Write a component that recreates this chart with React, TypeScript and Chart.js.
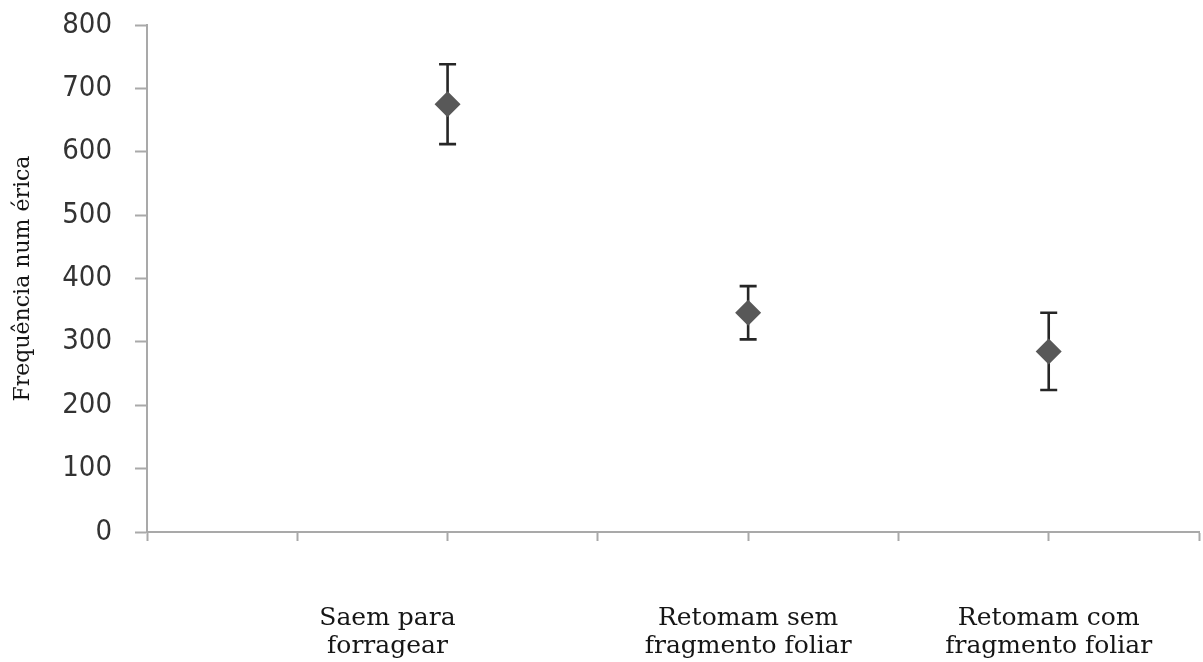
import { useEffect, useRef } from 'react';
import { Chart, registerables } from 'chart.js';

Chart.register(...registerables);

// ---- data ----
const categories: string[][] = [
  ['Saem para', 'forragear'],
  ['Retomam sem', 'fragmento foliar'],
  ['Retomam com', 'fragmento foliar'],
];
const xValues = [2, 4, 6];
const labelValues = [1.6, 4, 6];
const means = [675, 346, 285];
const errors = [63, 42, 61];
const xTickValues = [0, 1, 2, 3, 4, 5, 6, 7];
const yTitle = 'Frequência num érica';

const AXIS_COLOR = '#a9a9a9';

const errorBars = {
  id: 'errorBars',
  beforeDatasetsDraw(chart: any) {
    const { ctx, scales } = chart;
    const x = scales.x;
    const y = scales.y;
    ctx.save();
    ctx.strokeStyle = '#262626';
    ctx.lineWidth = 2.6;
    means.forEach((m, i) => {
      const px = x.getPixelForValue(xValues[i]);
      const top = y.getPixelForValue(m + errors[i]);
      const bot = y.getPixelForValue(m - errors[i]);
      const cap = 8.5;
      ctx.beginPath();
      ctx.moveTo(px, top);
      ctx.lineTo(px, bot);
      ctx.moveTo(px - cap, top);
      ctx.lineTo(px + cap, top);
      ctx.moveTo(px - cap, bot);
      ctx.lineTo(px + cap, bot);
      ctx.stroke();
    });
    ctx.restore();
  },
};

const zeroPadding = (s: any) => {
  s.paddingLeft = 0;
  s.paddingRight = 0;
  s.paddingTop = 0;
  s.paddingBottom = 0;
};

export default function App() {
  const ref = useRef<HTMLCanvasElement | null>(null);
  useEffect(() => {
    if (!ref.current) return;
    const chart = new Chart(ref.current, {
      type: 'scatter',
      data: {
        datasets: [
          {
            data: xValues.map((x, i) => ({ x, y: means[i] })),
            pointStyle: 'rectRot',
            pointRadius: 13,
            pointHoverRadius: 13,
            backgroundColor: '#585858',
            borderWidth: 0,
            showLine: false,
            clip: false,
          },
        ],
      },
      options: {
        animation: false,
        responsive: true,
        maintainAspectRatio: false,
        layout: { autoPadding: false, padding: { top: 25, right: 4, left: 0, bottom: 0 } },
        plugins: { legend: { display: false }, title: { display: false }, tooltip: { enabled: false } },
        scales: {
          x: {
            type: 'linear',
            min: 0,
            max: 7,
            afterBuildTicks: (s: any) => {
              const vals = [...xTickValues, ...labelValues.filter((v) => !xTickValues.includes(v))].sort(
                (a, b) => a - b,
              );
              s.ticks = vals.map((v) => ({ value: v }));
            },
            afterFit: (s: any) => {
              s.height = 130;
              zeroPadding(s);
            },
            grid: {
              display: true,
              drawOnChartArea: false,
              drawTicks: true,
              tickLength: 9,
              tickWidth: 2,
              tickColor: (c: any) =>
                c.tick && xTickValues.includes(c.tick.value) ? AXIS_COLOR : 'rgba(0,0,0,0)',
            },
            border: { display: true, color: AXIS_COLOR, width: 2 },
            ticks: {
              autoSkip: false,
              maxRotation: 0,
              minRotation: 0,
              padding: 63,
              color: '#151515',
              font: { family: 'DejaVu Serif', size: 25, lineHeight: 1.12 },
              callback: (v: any) => {
                const i = labelValues.indexOf(Number(v));
                return i >= 0 ? categories[i] : '';
              },
            },
          },
          y: {
            min: 0,
            max: 800,
            afterFit: (s: any) => {
              s.width = 147;
              zeroPadding(s);
            },
            grid: {
              display: true,
              drawOnChartArea: false,
              drawTicks: true,
              tickLength: 12,
              tickWidth: 2,
              tickColor: AXIS_COLOR,
            },
            border: { display: true, color: AXIS_COLOR, width: 2 },
            ticks: {
              stepSize: 100,
              padding: 23,
              color: '#333333',
              font: { family: 'DejaVu Sans Condensed', size: 29 },
            },
            title: {
              display: true,
              text: yTitle,
              color: '#151515',
              font: { family: 'DejaVu Serif', size: 22 },
              padding: { top: 10, bottom: 0 },
            },
          },
        },
      },
      plugins: [errorBars],
    });
    return () => chart.destroy();
  }, []);
  return (
    <div style={{ position: 'fixed', left: 0, top: 0, width: 1203, height: 662, background: '#fff' }}>
      <canvas ref={ref} />
    </div>
  );
}
